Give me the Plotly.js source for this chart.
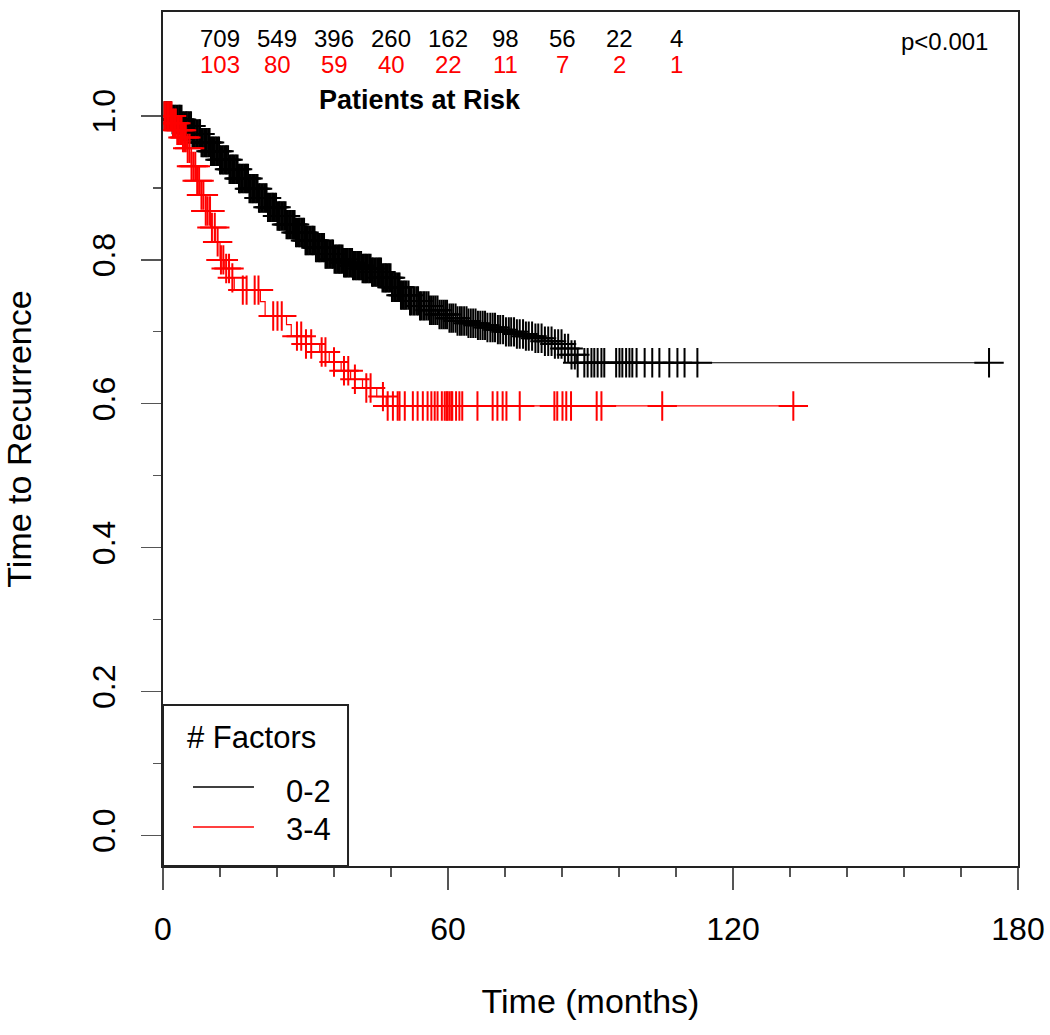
<!DOCTYPE html>
<html>
<head>
<meta charset="utf-8">
<script src="https://cdn.plot.ly/plotly-3.0.1.min.js"></script>
<style>html,body{margin:0;padding:0;background:#fff;}#chart{width:1050px;height:1035px;}</style>
</head>
<body>
<div id="chart"></div>
<script>
// ---- Kaplan-Meier step curves ----
const groupNames = ["0-2", "3-4"];
const legendTitle = "# Factors";

const lowTimes = [0, 2, 4, 6, 8, 10, 12, 14, 16, 18, 20, 22, 24, 26, 28, 30, 32, 34, 36, 38, 40, 42, 44, 46, 48, 50, 52, 54, 56, 58, 60, 62, 64, 66, 68, 70, 72, 74, 76, 78, 80, 82, 84, 86, 87, 173.9];
const lowSurv = [1.0, 0.995, 0.986, 0.975, 0.963, 0.951, 0.939, 0.926, 0.913, 0.899, 0.886, 0.873, 0.861, 0.849, 0.838, 0.827, 0.817, 0.808, 0.801, 0.796, 0.792, 0.788, 0.783, 0.775, 0.762, 0.751, 0.743, 0.736, 0.730, 0.724, 0.719, 0.715, 0.712, 0.709, 0.706, 0.703, 0.700, 0.697, 0.694, 0.691, 0.687, 0.683, 0.677, 0.668, 0.657, 0.657];

const highTimes = [0, 2, 3, 4, 5, 6, 7, 8, 9, 10, 11, 12, 13, 14, 15, 20.5, 21.5, 26, 27, 30, 33, 35, 37.5, 39.5, 42, 45, 47, 132.7];
const highSurv = [1.0, 0.99, 0.98, 0.97, 0.955, 0.93, 0.91, 0.89, 0.868, 0.845, 0.825, 0.80, 0.788, 0.775, 0.758, 0.742, 0.722, 0.71, 0.694, 0.683, 0.672, 0.658, 0.646, 0.634, 0.622, 0.61, 0.597, 0.597];

// censoring times (+ marks)
const lowCensor = [0.3, 0.6, 0.8, 1.1, 1.4, 1.7, 2.0, 2.2, 2.5, 2.8, 3.1, 3.4, 3.6, 3.9, 4.2, 4.5, 4.8, 5.0, 5.3, 5.6, 5.9, 6.2, 6.4, 6.7, 7.0, 7.3, 7.6, 7.8, 8.1, 8.4, 8.7, 9.0, 9.2, 9.5, 9.8, 10.1, 10.4, 10.6, 10.9, 11.2, 11.5, 11.8, 12.0, 12.3, 12.6, 12.9, 13.2, 13.4, 13.7, 14.0, 14.3, 14.6, 14.8, 15.1, 15.4, 15.7, 16.0, 16.2, 16.5, 16.8, 17.1, 17.4, 17.6, 17.9, 18.2, 18.5, 18.8, 19.0, 19.3, 19.6, 19.9, 20.2, 20.4, 20.7, 21.0, 21.3, 21.6, 21.8, 22.1, 22.4, 22.7, 23.0, 23.2, 23.5, 23.8, 24.1, 24.4, 24.6, 24.9, 25.2, 25.5, 25.8, 26.0, 26.3, 26.6, 26.9, 27.2, 27.4, 27.7, 28.0, 28.3, 28.6, 28.8, 29.1, 29.4, 29.7, 30.0, 30.2, 30.5, 30.8, 31.1, 31.4, 31.6, 31.9, 32.2, 32.5, 32.8, 33.0, 33.3, 33.6, 33.9, 34.2, 34.4, 34.7, 35.0, 35.3, 35.6, 35.8, 36.1, 36.4, 36.7, 37.0, 37.2, 37.5, 37.8, 38.1, 38.4, 38.6, 38.9, 39.2, 39.5, 39.8, 40.0, 40.3, 40.6, 40.9, 41.2, 41.4, 41.7, 42.0, 42.3, 42.6, 42.8, 43.1, 43.4, 43.7, 44.0, 44.2, 44.5, 44.8, 45.1, 45.4, 45.6, 45.9, 46.2, 46.5, 46.8, 47.0, 47.3, 47.6, 47.9, 48.2, 48.4, 48.7, 49.0, 49.3, 49.6, 49.8, 50.1, 50.4, 50.7, 51.0, 51.3, 51.7, 52.0, 52.3, 52.7, 53.0, 53.4, 53.7, 54.1, 54.4, 54.8, 55.1, 55.5, 55.9, 56.2, 56.6, 57.0, 57.4, 57.8, 58.2, 58.6, 59.0, 59.4, 59.8, 60.3, 60.7, 61.1, 61.6, 62.0, 62.5, 62.9, 63.4, 63.9, 64.3, 64.8, 65.3, 65.8, 66.3, 66.8, 67.3, 67.8, 68.3, 68.9, 69.4, 69.9, 70.5, 71.0, 71.6, 72.2, 72.8, 73.3, 73.9, 74.5, 75.1, 75.8, 76.4, 77.0, 77.7, 78.4, 79.0, 79.7, 80.4, 81.1, 81.8, 82.5, 83.2, 83.9, 84.6, 85.3, 86.0, 86.7, 87.3, 88.7, 89.4, 90.2, 90.8, 91.5, 92.3, 92.9, 95.4, 96.1, 96.7, 97.5, 98.2, 98.8, 99.7, 101.4, 103.0, 104.5, 106.6, 108.3, 109.8, 112.5, 173.9];
const highCensor = [0.3, 0.6, 0.9, 1.2, 1.5, 1.8, 2.1, 2.4, 2.7, 3.0, 3.3, 3.6, 3.9, 4.2, 4.5, 4.8, 5.2, 5.6, 6.0, 6.4, 6.8, 7.2, 7.6, 8.1, 8.5, 9.0, 9.4, 9.9, 10.3, 10.9, 11.5, 12.2, 12.7, 13.3, 13.9, 14.6, 16.8, 17.6, 19.3, 20.1, 23.2, 24.1, 25.0, 28.2, 29.1, 30.1, 31.2, 33.4, 34.2, 36.0, 38.1, 39.0, 40.4, 42.8, 43.7, 46.3, 47.3, 48.4, 49.4, 49.8, 50.9, 52.6, 53.6, 54.7, 55.7, 56.5, 57.2, 57.8, 58.7, 59.3, 59.7, 59.9, 60.3, 60.7, 60.9, 61.7, 62.4, 63.0, 66.2, 69.4, 70.4, 71.5, 72.3, 75.1, 82.4, 83.0, 84.1, 84.9, 85.9, 91.3, 92.3, 105.1, 132.7];

// ---- patients at risk ----
const riskTimes = [12, 24, 36, 48, 60, 72, 84, 96, 108];
const riskLow = [709, 549, 396, 260, 162, 98, 56, 22, 4];
const riskHigh = [103, 80, 59, 40, 22, 11, 7, 2, 1];

const xTicks = [0, 60, 120, 180];
const yTicks = [0.0, 0.2, 0.4, 0.6, 0.8, 1.0];

const colLow = "#000000";
const colHigh = "#ff0000";
const FONT = "Arial, 'Liberation Sans', Helvetica, sans-serif";

function stepAt(times, surv, t) {
  let v = surv[0];
  for (let i = 0; i < times.length; i++) { if (times[i] <= t) v = surv[i]; }
  return v;
}

const traces = [
  {x: lowTimes, y: lowSurv, mode: "lines", line: {shape: "hv", color: colLow, width: 1.2}, name: groupNames[0], showlegend: false},
  {x: lowCensor, y: lowCensor.map(t => stepAt(lowTimes, lowSurv, t)), mode: "markers",
   marker: {symbol: "cross-thin", size: 21, line: {color: colLow, width: 2}}, showlegend: false},
  {x: highTimes, y: highSurv, mode: "lines", line: {shape: "hv", color: colHigh, width: 1.2}, name: groupNames[1], showlegend: false},
  {x: highCensor, y: highCensor.map(t => stepAt(highTimes, highSurv, t)), mode: "markers",
   marker: {symbol: "cross-thin", size: 21, line: {color: colHigh, width: 2}}, showlegend: false}
];

const annotations = [];
riskTimes.forEach((t, i) => {
  annotations.push({x: t, y: 1.108, xref: "x", yref: "y", text: String(riskLow[i]), showarrow: false,
    font: {family: FONT, size: 24, color: colLow}, xanchor: "center", yanchor: "middle"});
  annotations.push({x: t, y: 1.071, xref: "x", yref: "y", text: String(riskHigh[i]), showarrow: false,
    font: {family: FONT, size: 24, color: colHigh}, xanchor: "center", yanchor: "middle"});
});
annotations.push({x: 54, y: 1.022, xref: "x", yref: "y", text: "<b>Patients at Risk</b>", showarrow: false,
  font: {family: FONT, size: 27, color: "#000"}, xanchor: "center", yanchor: "middle"});
annotations.push({x: 174, y: 1.104, xref: "x", yref: "y", text: "p<0.001", showarrow: false,
  font: {family: FONT, size: 24, color: "#000"}, xanchor: "right", yanchor: "middle"});

// legend (drawn as a boxed key in the lower-left corner, like the original)
annotations.push({x: 0.0257, y: 0.151, xref: "paper", yref: "paper", text: legendTitle, showarrow: false,
  font: {family: FONT, size: 31, color: "#000"}, xanchor: "left", yanchor: "middle"});
annotations.push({x: 0.1985, y: 0.0867, xref: "paper", yref: "paper", text: groupNames[0], showarrow: false,
  font: {family: FONT, size: 31, color: "#000"}, xanchor: "right", yanchor: "middle"});
annotations.push({x: 0.1985, y: 0.0422, xref: "paper", yref: "paper", text: groupNames[1], showarrow: false,
  font: {family: FONT, size: 31, color: "#000"}, xanchor: "right", yanchor: "middle"});

const shapes = [
  {type: "rect", xref: "paper", yref: "paper", x0: 0, x1: 0.2164, y0: 0, y1: 0.1885,
   line: {color: "#222", width: 2}, fillcolor: "#fff", layer: "above"},
  {type: "line", xref: "paper", yref: "paper", x0: 0.0351, x1: 0.1064, y0: 0.0925, y1: 0.0925,
   line: {color: colLow, width: 1.5}, layer: "above"},
  {type: "line", xref: "paper", yref: "paper", x0: 0.0351, x1: 0.1064, y0: 0.0457, y1: 0.0457,
   line: {color: colHigh, width: 1.5}, layer: "above"}
];

const layout = {
  width: 1050, height: 1035,
  margin: {l: 163, r: 32, t: 12, b: 169, pad: 0},
  paper_bgcolor: "#fff", plot_bgcolor: "#fff",
  font: {family: FONT, color: "#000"},
  showlegend: false,
  xaxis: {range: [0, 180], tickvals: xTicks, ticktext: xTicks.map(String), ticks: "outside", ticklen: 22, tickwidth: 1.3,
    tickcolor: "#555", showline: true, mirror: true, linecolor: "#222", linewidth: 2, showgrid: false, zeroline: false,
    tickfont: {family: FONT, size: 32}, ticklabelstandoff: 12,
    minor: {tickvals: [12, 24, 36, 48, 72, 84, 96, 108, 132, 144, 156, 168], ticks: "outside", ticklen: 9, tickwidth: 1.3, tickcolor: "#555"},
    title: {text: "Time (months)", font: {family: FONT, size: 34}, standoff: 43}, automargin: false},
  yaxis: {range: [-0.0424, 1.1445], tickvals: yTicks, ticktext: yTicks.map(v => v.toFixed(1)), ticks: "outside", ticklen: 20, tickwidth: 1.3,
    tickcolor: "#555", showline: true, mirror: true, linecolor: "#222", linewidth: 2, showgrid: false, zeroline: false,
    tickangle: -90, tickfont: {family: FONT, size: 32}, ticklabelstandoff: 13,
    minor: {tickvals: [0.1, 0.3, 0.5, 0.7, 0.9], ticks: "outside", ticklen: 8, tickwidth: 1.3, tickcolor: "#555"},
    title: {text: "Time to Recurrence", font: {family: FONT, size: 34}, standoff: 52}, automargin: false},
  annotations: annotations,
  shapes: shapes
};

Plotly.newPlot("chart", traces, layout, {staticPlot: true, displayModeBar: false});
</script>
</body>
</html>
